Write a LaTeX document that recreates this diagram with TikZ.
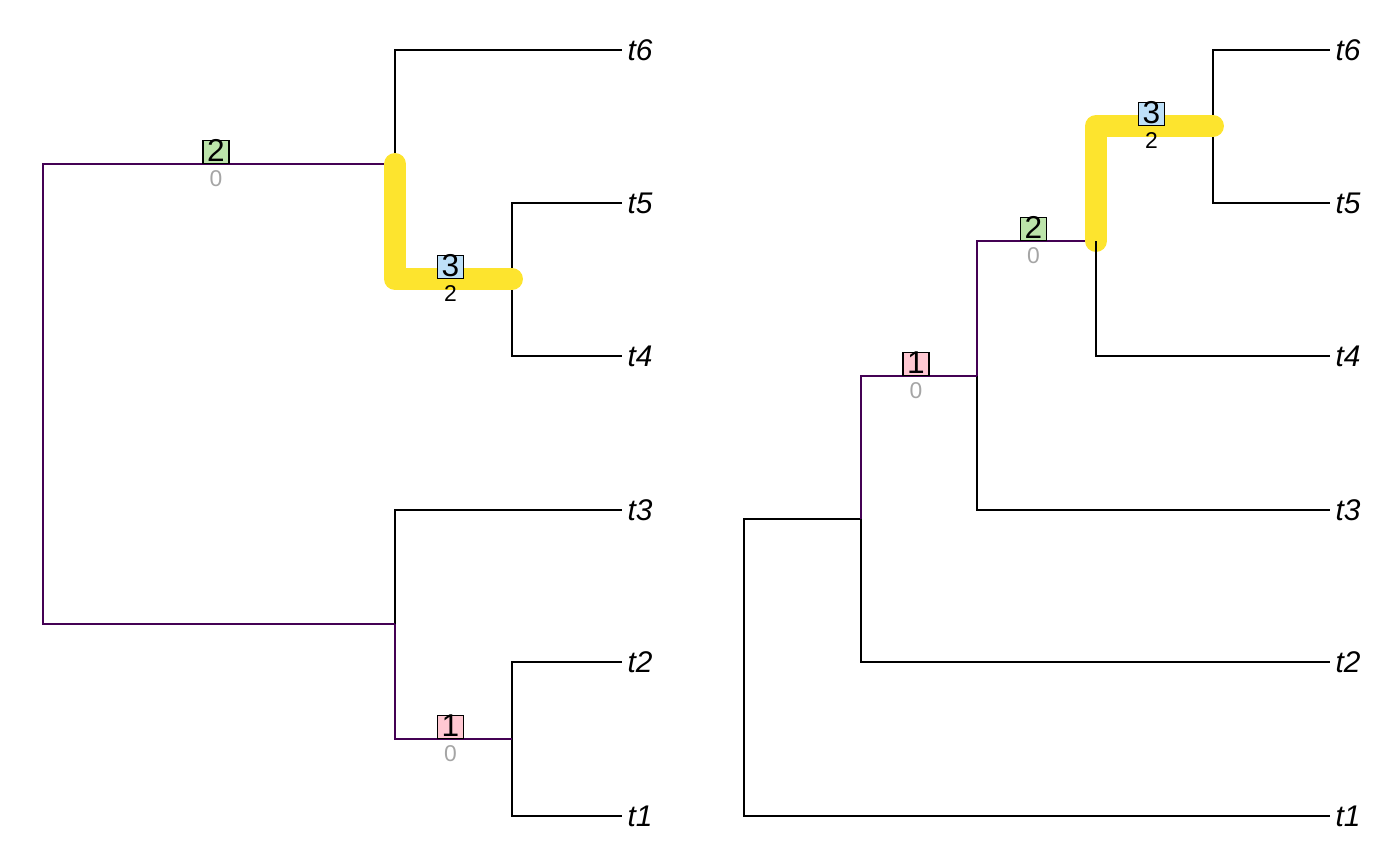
\documentclass[tikz,border=0pt]{standalone}
\usepackage{fontspec}
\setmainfont{Liberation Sans}

\definecolor{treepurple}{RGB}{68,1,84}
\definecolor{shiftyellow}{RGB}{253,228,46}
\definecolor{boxpink}{RGB}{255,200,210}
\definecolor{boxgreen}{RGB}{188,228,170}
\definecolor{boxblue}{RGB}{190,224,248}
\definecolor{rategray}{RGB}{165,165,165}

\begin{document}
\begin{tikzpicture}[
  x=0.02cm, y=-0.02cm,
  every node/.style={font=\fontsize{14}{16}\selectfont},
  edge/.style={line width=0.9pt, black},
  regime/.style={line width=0.9pt, draw=treepurple},
  shifted/.style={line width=12.5pt, draw=shiftyellow, line cap=round, line join=round},
  tip/.style={anchor=west, inner sep=3pt, font=\itshape\fontsize{17}{19}\selectfont},
  shiftbox/.style={draw, line width=0.7pt, minimum width=0.52cm, minimum height=0.46cm,
    inner sep=0pt, text height=0.40cm, text depth=0pt, anchor=south,
    font=\fontsize{18}{18}\selectfont},
  rate/.style={anchor=north, inner sep=0pt, yshift=-0.12cm, font=\fontsize{13}{13}\selectfont}
]
\useasboundingbox (0,0) rectangle (1400,866);

% ---- left tree: internal nodes ----
\coordinate (L0) at (43,394);
\coordinate (LA) at (395,164);
\coordinate (LB) at (395,624);
\coordinate (LC) at (512,279);
\coordinate (LD) at (512,739);

% ---- left tree: tips ----
\node[tip] (lt6) at (622,50)  {t6};
\node[tip] (lt5) at (622,203) {t5};
\node[tip] (lt4) at (622,356) {t4};
\node[tip] (lt3) at (622,510) {t3};
\node[tip] (lt2) at (622,662) {t2};
\node[tip] (lt1) at (622,816) {t1};

% ---- left tree: branches ----
\draw[edge] (LA) |- (lt6);
\draw[edge] (LC) |- (lt5);
\draw[edge] (LC) |- (lt4);
\draw[edge] (LB) |- (lt3);
\draw[edge] (LD) |- (lt2);
\draw[edge] (LD) |- (lt1);
\draw[regime] (L0) |- (LB);
\draw[regime] (LB) |- (LD);
\draw[regime] (L0) |- (LA);
\draw[shifted] (LA) |- (LC);

% ---- left tree: shift boxes ----
\path (L0) |- (LA)
  node[shiftbox, fill=boxgreen, pos=0.75, xshift=-0.06cm] (lbox2) {2}
  node[rate, rategray, pos=0.75, xshift=-0.06cm] (lrate2) {0};
\path (LA) |- (LC)
  node[shiftbox, fill=boxblue, pos=0.75, xshift=-0.06cm] (lbox3) {3}
  node[rate, pos=0.75, xshift=-0.06cm] (lrate3) {2};
\path (LB) |- (LD)
  node[shiftbox, fill=boxpink, pos=0.75, xshift=-0.06cm] (lbox1) {1}
  node[rate, rategray, pos=0.75, xshift=-0.06cm] (lrate1) {0};

% ---- right tree: internal nodes ----
\coordinate (R0) at (744,667);
\coordinate (RH) at (861,519);
\coordinate (RG) at (977,376);
\coordinate (RF) at (1096,241);
\coordinate (RE) at (1213,126);

% ---- right tree: tips ----
\node[tip] (rt6) at (1330,50)  {t6};
\node[tip] (rt5) at (1330,203) {t5};
\node[tip] (rt4) at (1330,356) {t4};
\node[tip] (rt3) at (1330,510) {t3};
\node[tip] (rt2) at (1330,662) {t2};
\node[tip] (rt1) at (1330,816) {t1};

% ---- right tree: branches ----
\draw[edge] (R0) |- (rt1);
\draw[edge] (R0) |- (RH);
\draw[edge] (RH) |- (rt2);
\draw[edge] (RG) |- (rt3);
\draw[edge] (RE) |- (rt6);
\draw[edge] (RE) |- (rt5);
\draw[regime] (RH) |- (RG);
\draw[regime] (RG) |- (RF);
\draw[shifted] (RF) |- (RE);
\draw[edge] (RF) |- (rt4);

% ---- right tree: shift boxes ----
\path (RH) |- (RG)
  node[shiftbox, fill=boxpink, pos=0.75, xshift=-0.06cm] (rbox1) {1}
  node[rate, rategray, pos=0.75, xshift=-0.06cm] (rrate1) {0};
\path (RG) |- (RF)
  node[shiftbox, fill=boxgreen, pos=0.75, xshift=-0.06cm] (rbox2) {2}
  node[rate, rategray, pos=0.75, xshift=-0.06cm] (rrate2) {0};
\path (RF) |- (RE)
  node[shiftbox, fill=boxblue, pos=0.75, xshift=-0.06cm] (rbox3) {3}
  node[rate, pos=0.75, xshift=-0.06cm] (rrate3) {2};

\end{tikzpicture}
\end{document}
